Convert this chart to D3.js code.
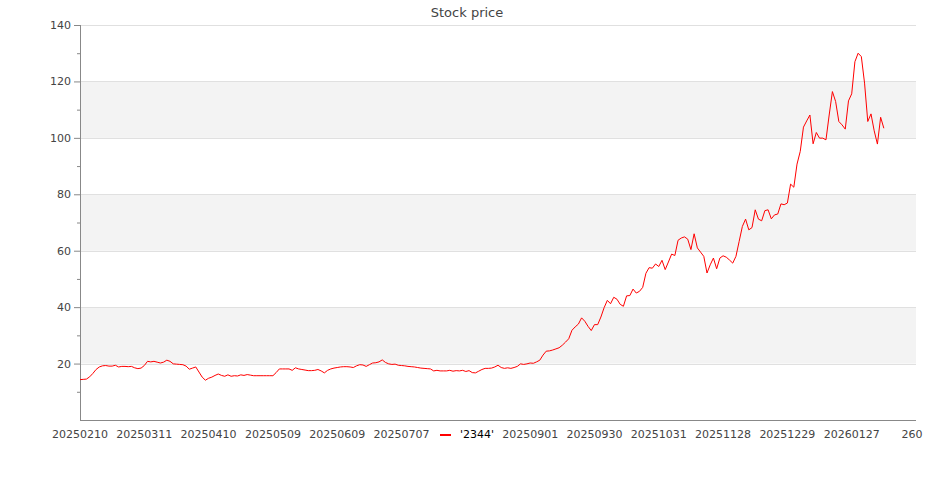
<!DOCTYPE html>
<html>
<head>
<meta charset="utf-8">
<script src="https://cdn.jsdelivr.net/npm/d3@7"></script>
<style>
  body { margin: 0; background: #fff; }
  text { font-family: "DejaVu Sans", sans-serif; }
</style>
</head>
<body>
<div id="chart"></div>
<script>
// series name + tick labels (null = label hidden behind the legend)
var seriesName = "'2344'";
var tickLabels = ["20250210", "20250311", "20250410", "20250509", "20250609", "20250707",
  null, "20250901", "20250930", "20251031", "20251128", "20251229", "20260127", "260"];
var yTicks = [20, 40, 60, 80, 100, 120, 140];

// closing prices, one per trading day
var prices = [
  14.3, 14.4, 14.5, 15.3, 16.5, 17.9, 18.8, 19.2, 19.3, 19.1,
  19.1, 19.4, 18.8, 19.0, 19.0, 18.9, 19.0, 18.5, 18.2, 18.4,
  19.3, 20.8, 20.6, 20.8, 20.5, 20.2, 20.5, 21.2, 20.8, 19.9,
  19.8, 19.7, 19.6, 19.1, 18.0, 18.4, 18.8, 17.0, 15.2, 14.1,
  14.8, 15.2, 15.8, 16.3, 15.8, 15.5, 16.0, 15.5, 15.7, 15.6,
  16.0, 15.8, 16.1, 15.9, 15.7, 15.7, 15.7, 15.7, 15.7, 15.7,
  15.7, 16.8, 18.1, 18.1, 18.1, 18.1, 17.6, 18.5, 18.1, 17.9,
  17.7, 17.5, 17.5, 17.6, 17.9, 17.4, 16.7, 17.6, 18.1, 18.4,
  18.6, 18.8, 18.9, 18.9, 18.8, 18.6, 19.2, 19.6, 19.5, 19.0,
  19.6, 20.2, 20.3, 20.6, 21.3, 20.4, 19.9, 19.7, 19.8, 19.4,
  19.3, 19.2, 19.0, 18.9, 18.8, 18.6, 18.4, 18.3, 18.2, 18.1,
  17.4, 17.6, 17.4, 17.4, 17.4, 17.6, 17.3, 17.5, 17.4, 17.6,
  17.2, 17.5, 16.8, 16.7, 17.3, 17.9, 18.3, 18.3, 18.4, 18.8,
  19.4, 18.6, 18.3, 18.5, 18.3, 18.6, 19.0, 19.9, 19.7, 19.9,
  20.2, 20.1, 20.6, 21.2, 23.0, 24.4, 24.5, 24.8, 25.2, 25.6,
  26.5, 27.6, 28.8, 31.8, 33.0, 34.0, 36.2, 35.0, 33.2, 31.7,
  33.8, 33.8, 36.5, 39.8, 42.4, 41.2, 43.5, 42.8, 41.0, 40.3,
  44.0, 44.1, 46.4, 45.0, 45.6, 47.0, 52.0, 54.0, 53.8, 55.3,
  54.4, 56.6, 53.3, 56.0, 58.8, 58.3, 63.7, 64.5, 64.9, 64.1,
  60.4, 66.0, 61.0, 59.5, 58.0, 52.1, 55.0, 57.4, 53.6, 57.4,
  58.2, 57.7, 56.7, 55.6, 58.0, 63.3, 68.6, 71.2, 67.4, 68.2,
  74.5, 71.2, 70.6, 74.2, 74.5, 71.3, 72.7, 73.0, 76.6, 76.3,
  76.9, 83.6, 82.5, 90.7, 95.2, 103.8, 106.0, 108.1, 97.9, 101.9,
  99.9, 99.9, 99.3, 108.1, 116.4, 112.9, 105.8, 104.6, 103.1, 113.1,
  115.6, 127.0, 130.0, 128.8, 119.4, 105.8, 108.5, 102.5, 97.8, 107.3,
  103.4
];

var width = 935, height = 500;
var margin = {top: 25, right: 19, bottom: 80, left: 80};
var innerW = width - margin.left - margin.right,
    innerH = height - margin.top - margin.bottom;

var svg = d3.select("#chart")
  .append("svg")
    .attr("width", width)
    .attr("height", height)
  .append("g")
    .attr("transform", "translate(" + margin.left + "," + margin.top + ")");

var x = d3.scaleLinear()
  .domain([0, 260])
  .range([0, innerW]);

var y = d3.scaleLinear()
  .domain([0, 140])
  .range([innerH, 0]);

// alternating bands
var bands = [[20, 40], [60, 80], [100, 120]];
svg.selectAll(".band")
  .data(bands)
  .enter()
  .append("rect")
    .attr("x", 0)
    .attr("width", innerW)
    .attr("y", function(d) { return y(d[1]); })
    .attr("height", function(d) { return y(d[0]) - y(d[1]); })
    .style("fill", "#f3f3f3");

// grid lines
svg.selectAll(".grid")
  .data(yTicks)
  .enter()
  .append("line")
    .attr("x1", 0)
    .attr("x2", innerW)
    .attr("y1", function(d) { return Math.round(y(d)) + 0.5; })
    .attr("y2", function(d) { return Math.round(y(d)) + 0.5; })
    .style("stroke", "#e0e0e0");

// Y axis (major + minor)
var yAxis = svg.append("g")
  .call(d3.axisLeft(y).tickValues(yTicks).tickSize(6).tickPadding(3))
  .style("font-size", "11px")
  .style("font-family", "DejaVu Sans");
yAxis.select(".domain").style("stroke", "#888").attr("d", "M0.5," + innerH + "V0");
yAxis.selectAll(".tick line").style("stroke", "#888");
yAxis.selectAll(".tick text").style("fill", "#444");

svg.append("g")
  .call(d3.axisLeft(y).tickValues([10, 30, 50, 70, 90, 110, 130]).tickSize(3).tickFormat(""))
  .call(function(g) { g.select(".domain").remove(); })
  .selectAll(".tick line").style("stroke", "#888");

// X axis line
svg.append("line")
  .attr("x1", 0)
  .attr("x2", innerW)
  .attr("y1", innerH + 0.5)
  .attr("y2", innerH + 0.5)
  .style("stroke", "#888");

// X labels every 20 trading days
var labelData = tickLabels
  .map(function(d, i) { return {label: d, idx: i * 20}; })
  .filter(function(d) { return d.label !== null; });

svg.selectAll(".xlabel")
  .data(labelData)
  .enter()
  .append("text")
    .attr("x", function(d) { return x(d.idx) + (d.idx === 260 ? -4 : 0); })
    .attr("y", innerH + 18)
    .attr("text-anchor", "middle")
    .style("font-size", "11px")
    .style("fill", "#444")
    .text(function(d) { return d.label; });

// price line
var line = d3.line()
  .x(function(d, i) { return x(i); })
  .y(function(d) { return y(d); });

svg.append("path")
  .datum(prices)
  .attr("d", line)
  .style("fill", "none")
  .style("stroke", "#ff0000")
  .style("stroke-width", "1px");

// title
svg.append("text")
  .attr("x", 467 - margin.left)
  .attr("y", 16.5 - margin.top)
  .attr("text-anchor", "middle")
  .style("font-size", "13px")
  .style("fill", "#444")
  .text("Stock price");

// legend
var legend = svg.append("g")
  .attr("transform", "translate(" + (437 - margin.left) + "," + (innerH + 6) + ")");
legend.append("line")
  .attr("x1", 3)
  .attr("x2", 14)
  .attr("y1", 9)
  .attr("y2", 9)
  .style("stroke", "#ff0000")
  .style("stroke-width", "2px");
legend.append("text")
  .attr("x", 23)
  .attr("y", 12)
  .style("font-size", "11px")
  .style("fill", "#000")
  .text(seriesName);
</script>
</body>
</html>
